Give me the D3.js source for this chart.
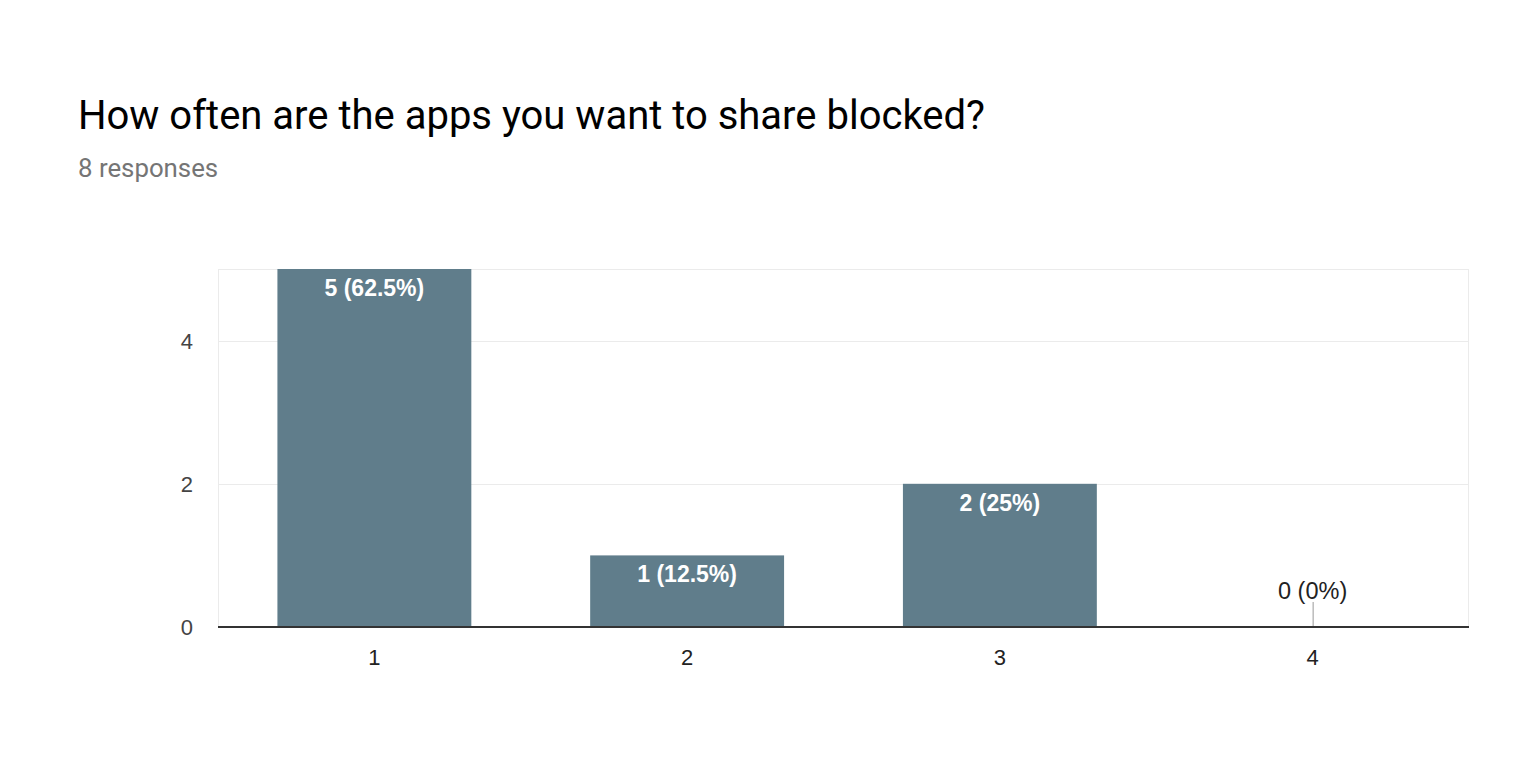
<!DOCTYPE html>
<html lang="en">
<head>
  <meta charset="UTF-8">
  <title>How often are the apps you want to share blocked?</title>
  <style>
    body { margin: 0; background: #fff; }
    svg { display: block; }
  </style>
</head>
<body>
  <svg></svg>
  <script src="https://d3js.org/d3.v7.min.js"></script>
  <script>
    var categories = ["1", "2", "3", "4"];
    var counts = [5, 1, 2, 0];
    var labels = ["5 (62.5%)", "1 (12.5%)", "2 (25%)", "0 (0%)"];
    var yTicks = [0, 2, 4];
    var gridValues = [2, 4, 5];

    var width = 1524, height = 766;
    var plotLeft = 218, plotRight = 1469, plotTop = 269, plotBottom = 627;

    var svg = d3.select("svg").attr("width", width).attr("height", height);

    svg.append("text")
        .attr("x", 78).attr("y", 129)
        .attr("font-family", "Roboto")
        .attr("font-size", 40)
        .attr("fill", "#000")
        .text("How often are the apps you want to share blocked?");

    svg.append("text")
        .attr("x", 78).attr("y", 177)
        .attr("font-family", "Roboto")
        .attr("font-size", 25.8)
        .attr("fill", "#757575")
        .text("8 responses");

    var x = d3.scaleBand().domain(categories).range([plotLeft, plotRight]).paddingInner(0.38).paddingOuter(0.19);
    var y = d3.scaleLinear().domain([0, 5]).range([plotBottom, plotTop]);

    // gridlines
    svg.append("g").selectAll("line")
      .data(gridValues)
      .enter().append("line")
        .attr("x1", plotLeft).attr("x2", plotRight)
        .attr("y1", d => Math.round(y(d)) + 0.5).attr("y2", d => Math.round(y(d)) + 0.5)
        .attr("stroke", "#ebebeb");

    svg.append("line")
        .attr("x1", plotLeft + 0.5).attr("x2", plotLeft + 0.5)
        .attr("y1", plotTop).attr("y2", plotBottom)
        .attr("stroke", "#ebebeb");
    svg.append("line")
        .attr("x1", plotRight - 0.5).attr("x2", plotRight - 0.5)
        .attr("y1", plotTop).attr("y2", plotBottom)
        .attr("stroke", "#ebebeb");

    // y labels
    svg.append("g").selectAll("text")
      .data(yTicks)
      .enter().append("text")
        .attr("x", 193).attr("y", d => y(d) + 8)
        .attr("text-anchor", "end")
        .attr("font-family", "Liberation Sans, Arial")
        .attr("font-size", 22)
        .attr("fill", "#444")
        .text(d => d);

    // bars
    svg.append("g").selectAll("rect")
      .data(counts)
      .enter().append("rect")
        .attr("x", (d, i) => x(categories[i]))
        .attr("width", x.bandwidth())
        .attr("y", d => y(d))
        .attr("height", d => plotBottom - y(d))
        .attr("fill", "#607d8b");

    // zero stub
    svg.append("g").selectAll("line")
      .data(counts.map((d, i) => ({v: d, c: categories[i]})).filter(d => d.v === 0))
      .enter().append("line")
        .attr("x1", d => x(d.c) + x.bandwidth() / 2 + 0.5)
        .attr("x2", d => x(d.c) + x.bandwidth() / 2 + 0.5)
        .attr("y1", plotBottom - 25).attr("y2", plotBottom)
        .attr("stroke", "#999");

    // bar labels
    svg.append("g").selectAll("text")
      .data(counts)
      .enter().append("text")
        .attr("x", (d, i) => x(categories[i]) + x.bandwidth() / 2)
        .attr("y", d => d === 0 ? plotBottom - 28 : y(d) + 27)
        .attr("text-anchor", "middle")
        .attr("font-family", "Liberation Sans, Arial")
        .attr("font-size", d => d === 0 ? 23.5 : 23)
        .attr("font-weight", d => d === 0 ? "normal" : "bold")
        .attr("fill", d => d === 0 ? "#222" : "#fff")
        .text((d, i) => labels[i]);

    // baseline
    svg.append("line")
        .attr("x1", plotLeft).attr("x2", plotRight)
        .attr("y1", plotBottom).attr("y2", plotBottom)
        .attr("stroke", "#333").attr("stroke-width", 2);

    // x labels
    svg.append("g").selectAll("text")
      .data(categories)
      .enter().append("text")
        .attr("x", d => x(d) + x.bandwidth() / 2)
        .attr("y", 665)
        .attr("text-anchor", "middle")
        .attr("font-family", "Liberation Sans, Arial")
        .attr("font-size", 22)
        .attr("fill", "#222")
        .text(d => d);
  </script>
</body>
</html>
